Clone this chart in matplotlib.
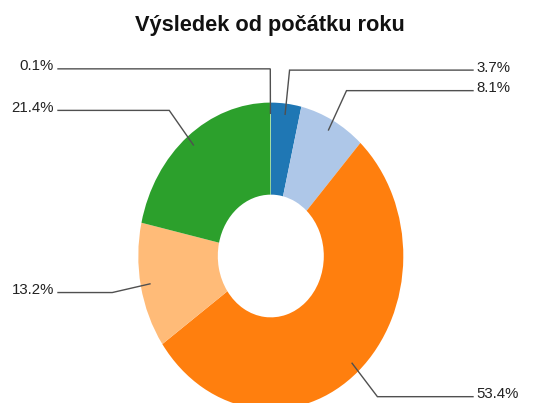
import numpy as np
import matplotlib
matplotlib.use('Agg')
import matplotlib.pyplot as plt

plt.rcParams['font.family'] = ['Liberation Sans', 'DejaVu Sans']

title = 'Výsledek od počátku roku'
shares = [3.7, 8.1, 53.4, 13.2, 21.4, 0.1]
labels = ['3.7%', '8.1%', '53.4%', '13.2%', '21.4%', '0.1%']
colors = ['#1f77b4', '#aec7e8', '#ff7f0e', '#ffbb78', '#2ca02c', '#98df8a']

W, H = 533, 403
# pie centre and radii in pixels (the reference is slightly stretched vertically)
cx, cy = 270.8, 256.0
rx, ry = 132.5, 153.4

fig = plt.figure(figsize=(W / 100, H / 100), dpi=100)
ax = fig.add_axes([0, 0, 1, 1])

wedges, _ = ax.pie(shares, colors=colors, startangle=90, counterclock=False,
                   radius=1.0, wedgeprops=dict(width=0.6, linewidth=0))
ax.set_aspect('auto')
ax.set_xlim(-cx / rx, (W - cx) / rx)
ax.set_ylim(-(H - cy) / ry, cy / ry)
ax.axis('off')


def px_x(px):
    return (px - cx) / rx


def px_y(py):
    return (cy - py) / ry


line_col = '#505050'
for w, lab in zip(wedges, labels):
    mid = np.deg2rad((w.theta1 + w.theta2) / 2)
    ax_, ay_ = 0.93 * np.cos(mid), 0.93 * np.sin(mid)
    ex, ey = 1.22 * np.cos(mid), 1.22 * np.sin(mid)
    if np.cos(mid) >= 0 and lab != '0.1%':
        end_x = px_x(473)
        ax.text(px_x(476), ey - 1.5 / ry, lab, ha='left', va='baseline',
                fontsize=10.8, color='#222222')
    else:
        end_x = px_x(58)
        ax.text(px_x(54), ey - 1.5 / ry, lab, ha='right', va='baseline',
                fontsize=10.8, color='#222222')
    ax.plot([ax_, ex, end_x], [ay_, ey, ey], color=line_col, lw=1.0,
            solid_joinstyle='miter')

fig.text(270 / W, 1 - 31.5 / H, title, ha='center', va='baseline',
         fontsize=15.7, fontweight='bold', color='#111111')

fig.savefig('out.png', dpi=100)
